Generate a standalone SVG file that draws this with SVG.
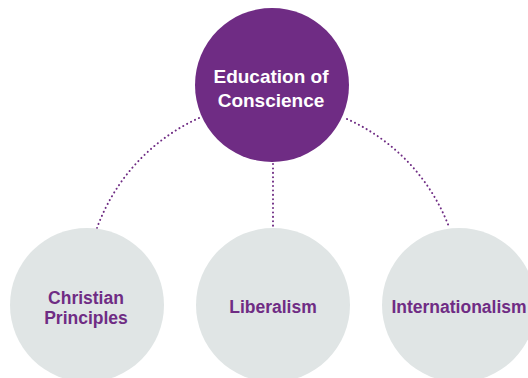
<svg xmlns="http://www.w3.org/2000/svg" width="528" height="378" viewBox="0 0 528 378">
<style>
.main{fill:#6f2c84}
.sub{fill:#e0e5e5}
.lbl{font-family:"Liberation Sans",Arial,sans-serif;font-weight:bold;text-anchor:middle}
.w{fill:#ffffff;font-size:19px}
.p{fill:#6f2c84;font-size:17.5px}
.con{fill:none;stroke:#6f2c84;stroke-width:2;stroke-linecap:round;stroke-dasharray:0.1 4.3}
</style>
<rect width="528" height="378" fill="#ffffff"/>
<g id="connectors">
<path class="con" d="M199 118 A193 193 0 0 0 97 228"/>
<path class="con" d="M273 164 L273 228"/>
<path class="con" d="M347 119 A193 193 0 0 1 449 227"/>
</g>
<g id="education">
<circle class="main" cx="272" cy="85" r="77"/>
<text class="lbl w" x="271" y="83">Education of</text>
<text class="lbl w" x="271" y="107">Conscience</text>
</g>
<g id="christian">
<circle class="sub" cx="87" cy="305" r="77"/>
<text class="lbl p" x="86" y="304">Christian</text>
<text class="lbl p" x="86" y="324">Principles</text>
</g>
<g id="liberalism">
<circle class="sub" cx="273" cy="305" r="77"/>
<text class="lbl p" x="273" y="313">Liberalism</text>
</g>
<g id="internationalism">
<circle class="sub" cx="459" cy="305" r="77"/>
<text class="lbl p" x="459" y="313">Internationalism</text>
</g>
</svg>
